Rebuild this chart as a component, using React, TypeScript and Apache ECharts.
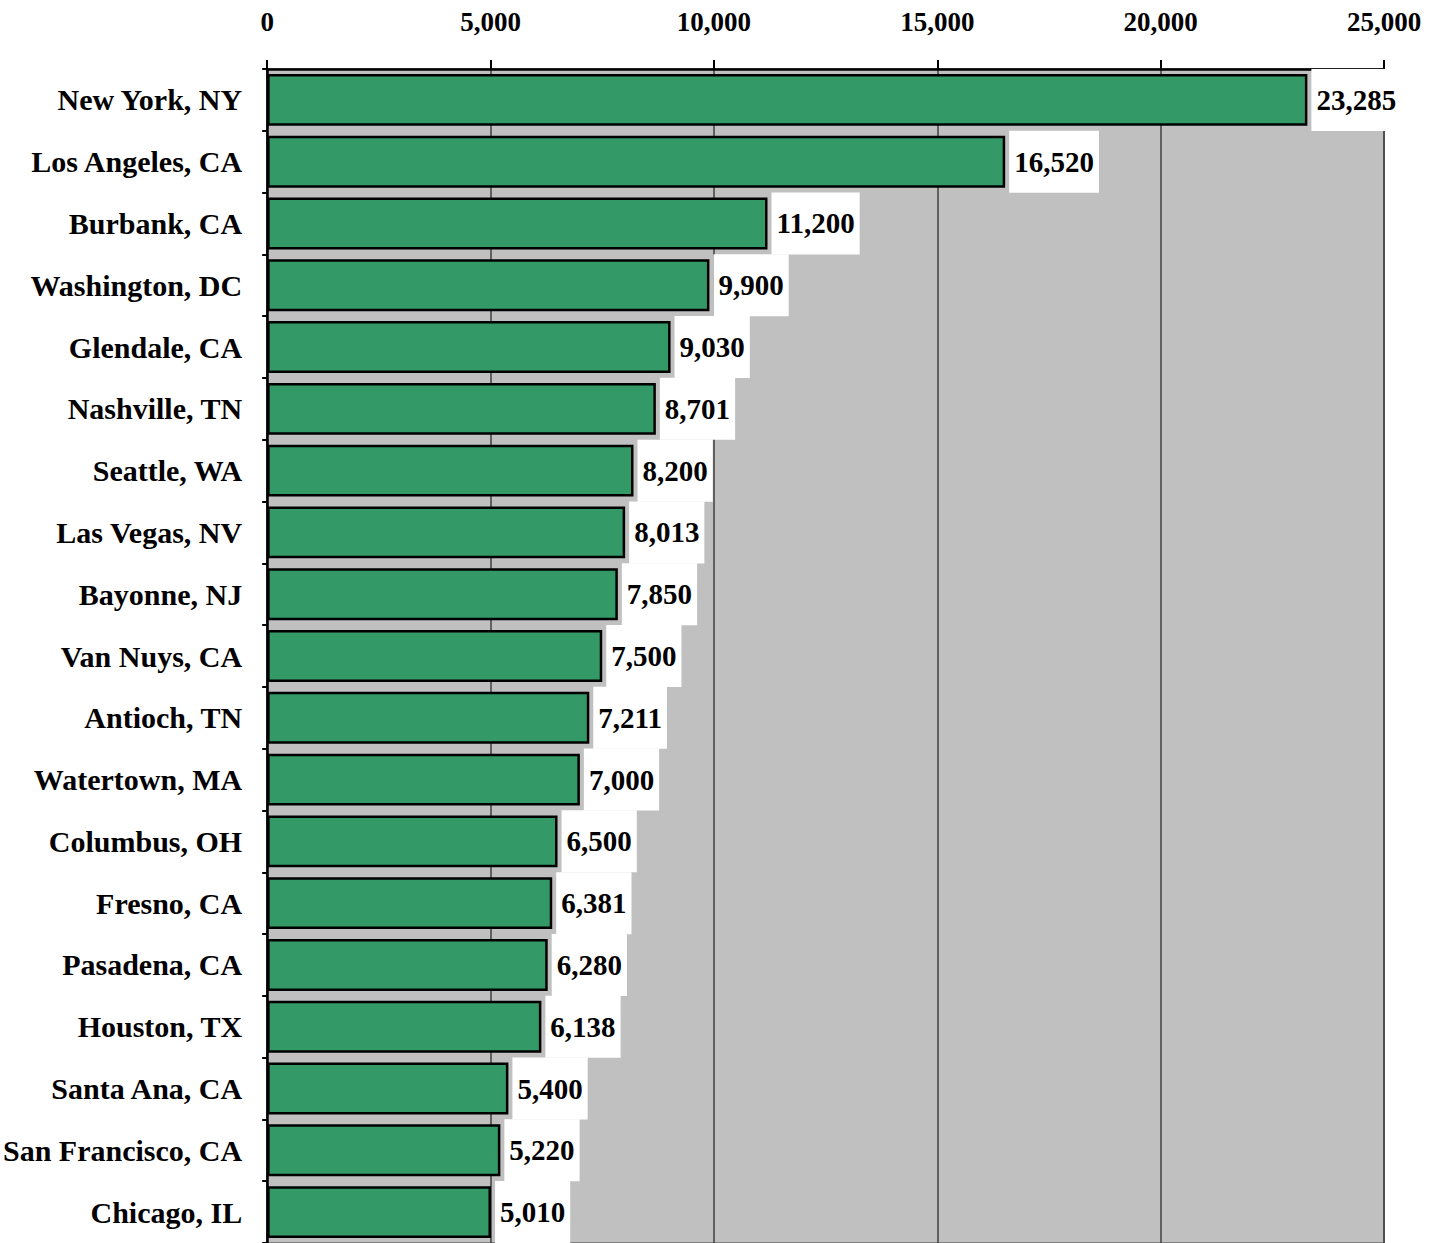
import React, { useEffect, useRef } from "react";
import * as echarts from "echarts";

const cities = [
  "New York, NY",
  "Los Angeles, CA",
  "Burbank, CA",
  "Washington, DC",
  "Glendale, CA",
  "Nashville, TN",
  "Seattle, WA",
  "Las Vegas, NV",
  "Bayonne, NJ",
  "Van Nuys, CA",
  "Antioch, TN",
  "Watertown, MA",
  "Columbus, OH",
  "Fresno, CA",
  "Pasadena, CA",
  "Houston, TX",
  "Santa Ana, CA",
  "San Francisco, CA",
  "Chicago, IL",
];

const values = [
  23285, 16520, 11200, 9900, 9030, 8701, 8200, 8013, 7850, 7500, 7211, 7000,
  6500, 6381, 6280, 6138, 5400, 5220, 5010,
];

const axisMin = 0;
const axisMax = 25000;
const axisStep = 5000;

const FONT = "'Liberation Serif', 'DejaVu Serif', serif";
const fmt = (v: number) => Number(v).toLocaleString("en-US");

export default function App() {
  const ref = useRef<HTMLDivElement>(null);
  useEffect(() => {
    if (!ref.current) return;
    const chart = echarts.init(ref.current, null, { renderer: "svg" });
    chart.setOption({
      animation: false,
      backgroundColor: "#ffffff",
      grid: {
        left: 267,
        right: 56,
        top: 69,
        bottom: -2,
        show: true,
        backgroundColor: "#C0C0C0",
        borderColor: "#808080",
        borderWidth: 2,
      },
      xAxis: {
        type: "value",
        position: "top",
        min: axisMin,
        max: axisMax,
        interval: axisStep,
        axisLine: { show: true, lineStyle: { color: "#000", width: 2.5 } },
        axisTick: { show: true, length: 9, lineStyle: { color: "#000", width: 2 } },
        splitLine: { show: true, lineStyle: { color: "#404040", width: 1.5 } },
        axisLabel: {
          fontFamily: FONT,
          fontSize: 27,
          fontWeight: "bold",
          color: "#000",
          margin: 34,
          formatter: (v: number) => fmt(v),
        },
      },
      yAxis: {
        type: "category",
        inverse: true,
        data: cities,
        axisLine: { show: true, lineStyle: { color: "#000", width: 2.5 } },
        axisTick: { show: true, length: 5, lineStyle: { color: "#000", width: 2 } },
        splitLine: { show: false },
        axisLabel: {
          fontFamily: FONT,
          fontSize: 30,
          fontWeight: "bold",
          color: "#000",
          margin: 25,
        },
      },
      series: [
        {
          type: "bar",
          data: values,
          barCategoryGap: "16%",
          itemStyle: { color: "#339966", borderColor: "#000", borderWidth: 2.5 },
          label: {
            show: true,
            position: "right",
            distance: 4,
            backgroundColor: "#ffffff",
            padding: [16, 5, 16, 5],
            fontFamily: FONT,
            fontSize: 29,
            lineHeight: 30,
            fontWeight: "bold",
            color: "#000",
            formatter: (p: any) => fmt(p.value),
          },
        },
      ],
    });
    return () => chart.dispose();
  }, []);
  return (
    <div
      ref={ref}
      style={{ position: "absolute", left: 0, top: 0, width: 1440, height: 1243 }}
    />
  );
}
